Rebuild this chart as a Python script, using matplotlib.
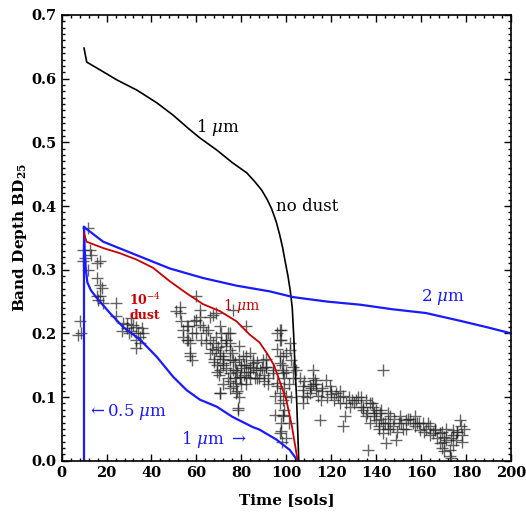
import numpy as np
import matplotlib.pyplot as plt
from matplotlib.ticker import MultipleLocator

# model curves (time in sols, band depth)
nodust_x = [10, 11.2, 17, 24.6, 33.5, 42.4, 49.5, 57, 61.5, 69, 76, 82.4, 86, 89, 91.5,
            93.5, 95.5, 97, 98.3, 99.5, 100.7, 101.8, 102.6, 103.2, 103.8, 104.5, 105, 105.5]
nodust_y = [0.648, 0.626, 0.614, 0.598, 0.582, 0.562, 0.543, 0.520, 0.507, 0.488, 0.468,
            0.452, 0.438, 0.425, 0.41, 0.395, 0.375, 0.355, 0.335, 0.312, 0.29, 0.265, 0.24,
            0.2, 0.15, 0.1, 0.05, 0.0]

blue2_x = [10, 18.5, 33.3, 48.1, 62.9, 77.8, 92.6, 103, 118, 133, 147, 162, 177, 190, 200]
blue2_y = [0.367, 0.344, 0.323, 0.302, 0.287, 0.275, 0.266, 0.257, 0.25, 0.245, 0.238,
           0.232, 0.22, 0.209, 0.2]

blue1_x = [10, 10.3, 10.8, 11.5, 13, 15.6, 21.5, 27.4, 35, 42.4, 49.6, 55.6, 61.5, 69, 76,
           85, 88, 95.7, 101.5, 105]
blue1_y = [0.367, 0.33, 0.30, 0.28, 0.268, 0.256, 0.232, 0.21, 0.19, 0.163, 0.132, 0.111,
           0.096, 0.085, 0.069, 0.053, 0.049, 0.033, 0.017, 0.0]

blue05_x = [10, 10]
blue05_y = [0.367, 0.0]

red_x = [10, 11.1, 18.5, 25.9, 33.3, 40.7, 48.1, 55.6, 62.9, 70.4, 77.8, 83.7, 88, 91.5,
         94.5, 97, 100, 102.4, 103.7, 105]
red_y = [0.357, 0.344, 0.334, 0.326, 0.316, 0.303, 0.282, 0.263, 0.246, 0.235, 0.219, 0.198,
         0.186, 0.168, 0.15, 0.125, 0.095, 0.055, 0.028, 0.0]

# observed band depths
obs_x = [8.1, 8.8, 7.4, 11.8, 9.6, 12.6, 10.4, 13.3, 9.6, 17, 11.8, 15.6, 17.8, 17, 16.3,
         15.6, 17, 15.6, 18.5, 24.4, 24.4, 27.4, 28.9, 31.8, 31.1, 33.3, 33.3, 35.6, 36.3,
         34.8, 31.1, 26.7, 52.6, 52.6, 56.3, 56.3, 57, 57.8, 61.5, 61.5, 67.4, 68.8, 69.6,
         70.4, 70.4, 70.4, 73.3, 74.8, 76.3, 76.3, 77.8, 78.5, 79.2, 82.2, 83.7, 85.2, 82.2,
         86.7, 60, 61.5, 65.9, 68.9, 70.4, 76.3, 82.2, 55.6, 55.6, 57, 64.4, 64.4, 67.4,
         68.9, 70.4, 73.3, 74.8, 76.3, 77.8, 79.2, 77.8, 80.7, 83.7, 85.2, 88.1, 91.1, 94,
         95.6, 97, 97, 98.5, 98.5, 100, 97, 98.5, 97.8, 70.4, 78.5, 74.8, 71.8, 57, 60, 54,
         107.4, 107.4, 102.9, 97.8, 97.8, 101.5, 101.5, 102.2, 89.6, 91.1, 94, 97, 98.5,
         104.4, 95.6, 97, 98.5, 94.8, 94.8, 98.5, 97.8, 97,
         107.4, 107.4, 110.4, 110.4, 111.8, 112.6, 113.3, 114, 115.6, 114.8, 117.8, 119.2,
         122.2, 125.2, 126.7, 128.1, 125.2, 126, 131.1, 135.6, 134, 135.6, 137, 136.3, 138.5,
         140, 141.5, 143, 143, 144.5, 146, 147.4, 148.9, 150.4, 153.3, 156.3, 157, 159.2,
         160.7, 163.7, 165.2, 168.1, 168.1, 171.1, 172.6, 174, 175.6, 177, 177.6, 172.6, 143,
         66, 72, 75, 72, 68, 80, 84, 87, 90, 92, 71, 73, 69, 75, 79, 81,
         112, 116, 120, 124, 129, 133, 139, 142, 145, 150, 152, 155, 158, 162, 166, 170, 174,
         176, 178, 169, 145, 141, 138, 132, 128,
         65, 66, 67, 68, 69, 70, 71, 72, 72, 73, 74, 74, 75, 75, 76, 77, 77, 78, 78, 79, 79,
         80, 80, 81, 82, 82, 83, 84, 85, 86, 87, 88, 89, 90, 91, 92,
         96, 96, 97, 98, 99, 99, 100, 100, 101, 102, 99, 101, 98, 100, 103,
         106, 108, 109, 111, 112, 113, 116, 118, 120, 121, 123, 124,
         130, 133, 134, 136, 137, 139, 140, 141, 142, 144, 145, 146, 148, 149, 151, 153, 154,
         157, 159, 161, 163, 164, 166, 167, 169, 170, 171, 173, 174, 176, 178, 179, 170, 173,
         51, 53, 54, 58, 59, 60, 62, 63, 29, 30, 33, 35, 34]
obs_y = [0.219, 0.200, 0.198, 0.365, 0.331, 0.331, 0.318, 0.323, 0.313, 0.313, 0.30,
         0.287, 0.271, 0.258, 0.253, 0.31, 0.276, 0.258, 0.248, 0.248, 0.227, 0.216, 0.208,
         0.213, 0.203, 0.190, 0.177, 0.208, 0.2, 0.195, 0.224, 0.203, 0.242, 0.232, 0.211,
         0.19, 0.169, 0.159, 0.213, 0.226, 0.229, 0.195, 0.179, 0.169, 0.143, 0.106, 0.19,
         0.159, 0.143, 0.117, 0.106, 0.083, 0.132, 0.164, 0.148, 0.159, 0.132, 0.143, 0.258,
         0.237, 0.226, 0.232, 0.211, 0.237, 0.211, 0.211, 0.19, 0.164, 0.2, 0.185, 0.185,
         0.174, 0.164, 0.19, 0.174, 0.159, 0.143, 0.132, 0.122, 0.164, 0.169, 0.153, 0.143,
         0.148, 0.138, 0.122, 0.206, 0.19, 0.164, 0.143, 0.101, 0.09, 0.07, 0.059, 0.106,
         0.08, 0.138, 0.153, 0.185, 0.221, 0.195, 0.117, 0.101, 0.148, 0.206, 0.19, 0.185,
         0.174, 0.159, 0.159, 0.148, 0.143, 0.153, 0.138, 0.143, 0.117, 0.106, 0.096, 0.101,
         0.072, 0.072, 0.046, 0.043,
         0.111, 0.09, 0.117, 0.106, 0.143, 0.127, 0.111, 0.101, 0.096, 0.064, 0.127, 0.117,
         0.106, 0.101, 0.09, 0.085, 0.054, 0.07, 0.096, 0.096, 0.08, 0.07, 0.059, 0.017,
         0.085, 0.064, 0.075, 0.059, 0.043, 0.028, 0.07, 0.054, 0.033, 0.07, 0.064, 0.059,
         0.07, 0.049, 0.059, 0.054, 0.043, 0.043, 0.028, 0.033, 0.017, 0.049, 0.033, 0.064,
         0.054, 0.007, 0.143,
         0.17, 0.15, 0.125, 0.16, 0.155, 0.15, 0.14, 0.13, 0.125, 0.12, 0.2, 0.18, 0.14,
         0.2, 0.18, 0.15,
         0.12, 0.11, 0.105, 0.09, 0.095, 0.085, 0.075, 0.08, 0.06, 0.06, 0.05, 0.065, 0.06,
         0.05, 0.048, 0.038, 0.04, 0.045, 0.03, 0.02, 0.05, 0.05, 0.09, 0.1, 0.1,
         0.205, 0.19, 0.175, 0.16, 0.15, 0.135, 0.185, 0.165, 0.12, 0.145, 0.2, 0.13, 0.115,
         0.185, 0.17, 0.155, 0.13, 0.14, 0.11, 0.16, 0.1, 0.145, 0.12, 0.135, 0.15, 0.12,
         0.14, 0.13, 0.145, 0.13, 0.155, 0.13, 0.145, 0.135, 0.16, 0.13,
         0.2, 0.175, 0.165, 0.15, 0.13, 0.115, 0.14, 0.17, 0.12, 0.1, 0.08, 0.06, 0.03, 0.035,
         0.13,
         0.13, 0.125, 0.1, 0.115, 0.13, 0.12, 0.115, 0.1, 0.11, 0.095, 0.1, 0.11,
         0.09, 0.1, 0.085, 0.075, 0.09, 0.07, 0.08, 0.055, 0.065, 0.06, 0.075, 0.05, 0.065,
         0.045, 0.06, 0.05, 0.065, 0.055, 0.06, 0.045, 0.06, 0.04, 0.05, 0.035, 0.045, 0.03,
         0.05, 0.035, 0.025, 0.045, 0.04, 0.05, 0.015, 0.005,
         0.235, 0.22, 0.205, 0.2, 0.22, 0.2, 0.19, 0.21, 0.215, 0.2, 0.21, 0.185, 0.2]

plt.rcParams['font.family'] = 'DejaVu Serif'
plt.rcParams['mathtext.fontset'] = 'dejavuserif'

fig = plt.figure(figsize=(5.26, 5.16), dpi=100)
ax = fig.add_axes([0.117, 0.107, 0.855, 0.864])

ax.plot(obs_x, obs_y, '+', color='#222222', alpha=0.7, markersize=8, markeredgewidth=1.0)
ax.plot(nodust_x, nodust_y, color='black', linewidth=1.2)
ax.plot(blue2_x, blue2_y, color='#1a1aff', linewidth=1.6)
ax.plot(blue1_x, blue1_y, color='#1a1aff', linewidth=1.6)
ax.plot(blue05_x, blue05_y, color='#1a1aff', linewidth=1.6)
ax.plot(red_x, red_y, color='#cc0000', linewidth=1.3)

ax.text(69.5, 0.524, r'1 $\mu$m', fontsize=12, ha='center', va='center')
ax.text(95.5, 0.399, 'no dust', fontsize=12, ha='left', va='center')
ax.text(169.5, 0.257, r'2 $\mu$m', fontsize=12, ha='center', va='center', color='#1a1aff')
ax.text(37, 0.242, r'10$^{-4}$' + '\ndust', fontsize=9, ha='center', va='center',
        color='#cc0000', fontweight='bold', linespacing=1.1)
ax.text(80, 0.243, r'1 $\mu$m', fontsize=10, ha='center', va='center', color='#cc0000')
ax.text(11.5, 0.077, r'$\leftarrow$0.5 $\mu$m', fontsize=12, ha='left', va='center',
        color='#1a1aff')
ax.text(53, 0.033, r'1 $\mu$m $\rightarrow$', fontsize=12, ha='left', va='center',
        color='#1a1aff')

ax.set_xlim(0, 200)
ax.set_ylim(0, 0.7)
ax.xaxis.set_major_locator(MultipleLocator(20))
ax.xaxis.set_minor_locator(MultipleLocator(4))
ax.yaxis.set_major_locator(MultipleLocator(0.1))
ax.yaxis.set_minor_locator(MultipleLocator(0.01))
ax.yaxis.set_major_formatter(plt.FormatStrFormatter('%.1f'))
ax.tick_params(which='both', direction='in', top=True, right=True, labelsize=10.5)
ax.tick_params(which='major', length=5, width=1)
ax.tick_params(which='minor', length=2.5, width=1)
for lab in ax.get_xticklabels() + ax.get_yticklabels():
    lab.set_fontweight('bold')
for sp in ax.spines.values():
    sp.set_linewidth(1.2)

ax.set_xlabel('Time [sols]', fontsize=11, fontweight='bold', labelpad=10)
ax.set_ylabel(r'Band Depth BD$_{\mathbf{25}}$', fontsize=11, fontweight='bold', labelpad=2)

fig.savefig('out.png', dpi=100)
